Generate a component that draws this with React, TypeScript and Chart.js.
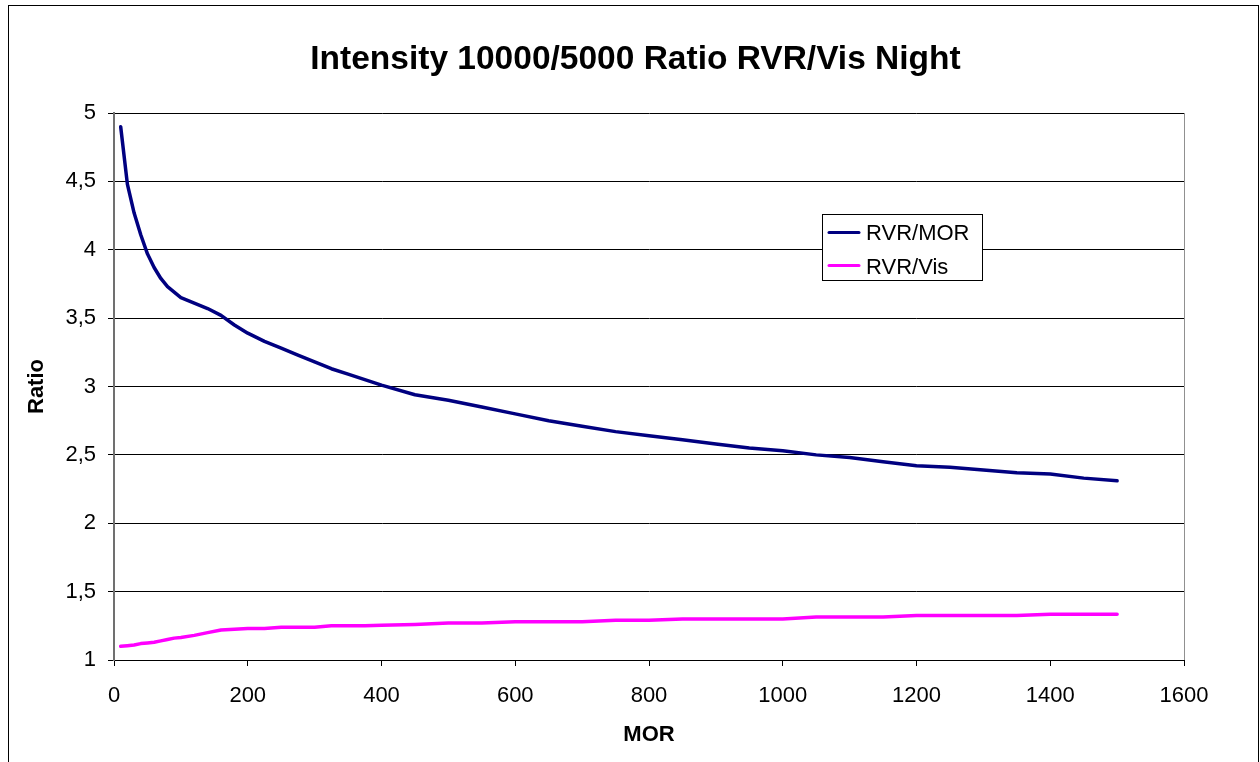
import React, { useEffect, useRef } from "react";
import { Chart, registerables } from "chart.js";

Chart.register(...registerables);

const TITLE = "Intensity 10000/5000 Ratio RVR/Vis Night";
const X_TITLE = "MOR";
const Y_TITLE = "Ratio";
const SERIES_NAMES = ["RVR/MOR", "RVR/Vis"];
const SERIES_COLORS = ["#000080", "#FF00FF"];

const mor = [10, 20, 30, 40, 50, 60, 70, 80, 90, 100, 120, 140, 160, 180, 200, 225, 250, 275, 300, 325, 350, 375, 400, 450, 500, 550, 600, 650, 700, 750, 800, 850, 900, 950, 1000, 1050, 1100, 1150, 1200, 1250, 1300, 1350, 1400, 1450, 1500];

const rvrMor = [4.9, 4.48, 4.27, 4.11, 3.97, 3.87, 3.79, 3.73, 3.69, 3.65, 3.61, 3.57, 3.52, 3.45, 3.39, 3.33, 3.28, 3.23, 3.18, 3.13, 3.09, 3.05, 3.01, 2.94, 2.9, 2.85, 2.8, 2.75, 2.71, 2.67, 2.64, 2.61, 2.58, 2.55, 2.53, 2.5, 2.48, 2.45, 2.42, 2.41, 2.39, 2.37, 2.36, 2.33, 2.31];

const rvrVis = [1.1, 1.105, 1.11, 1.12, 1.125, 1.13, 1.14, 1.15, 1.16, 1.165, 1.18, 1.2, 1.22, 1.225, 1.23, 1.23, 1.24, 1.24, 1.24, 1.25, 1.25, 1.25, 1.255, 1.26, 1.27, 1.27, 1.28, 1.28, 1.28, 1.29, 1.29, 1.3, 1.3, 1.3, 1.3, 1.315, 1.315, 1.315, 1.325, 1.325, 1.325, 1.325, 1.335, 1.335, 1.335];

const FONT = '"Liberation Sans", Arial, sans-serif';

const decor = {
  id: "decor",
  afterDraw(chart: any) {
    const ctx = chart.ctx as CanvasRenderingContext2D;
    const a = chart.chartArea;
    ctx.save();
    ctx.strokeStyle = "#909090";
    ctx.lineWidth = 1;
    ctx.beginPath();
    ctx.moveTo(a.right + 0.5, a.top);
    ctx.lineTo(a.right + 0.5, a.bottom);
    ctx.stroke();
    ctx.strokeStyle = "#000";
    ctx.lineWidth = 1;
    ctx.strokeRect(8.5, 5.5, 1250, 820);
    ctx.fillStyle = "#000";
    ctx.font = `bold 33.5px ${FONT}`;
    ctx.textAlign = "center";
    ctx.textBaseline = "alphabetic";
    ctx.fillText(TITLE, 635.5, 69);
    ctx.fillStyle = "#fff";
    ctx.fillRect(822, 214, 160, 66);
    ctx.strokeStyle = "#000";
    ctx.strokeRect(822.5, 214.5, 160, 66);
    ctx.font = `22px ${FONT}`;
    ctx.textAlign = "left";
    const rows = [
      { y: 232.5, base: 239.5 },
      { y: 265.5, base: 273.5 },
    ];
    chart.data.datasets.forEach((ds: any, i: number) => {
      ctx.strokeStyle = ds.borderColor;
      ctx.lineWidth = 3;
      ctx.lineCap = "round";
      ctx.beginPath();
      ctx.moveTo(829, rows[i].y);
      ctx.lineTo(859, rows[i].y);
      ctx.stroke();
      ctx.fillStyle = "#000";
      ctx.fillText(ds.label, 866, rows[i].base);
    });
    ctx.restore();
  },
};

export default function App() {
  const ref = useRef<HTMLCanvasElement | null>(null);
  useEffect(() => {
    document.body.style.margin = "0";
    const canvas = ref.current!;
    const chart = new Chart(canvas, {
      type: "line",
      data: {
        datasets: [
          {
            label: SERIES_NAMES[0],
            data: mor.map((x, i) => ({ x, y: rvrMor[i] })),
            borderColor: SERIES_COLORS[0],
            backgroundColor: SERIES_COLORS[0],
            borderWidth: 3.5,
            pointRadius: 0,
            tension: 0,
            borderJoinStyle: "round",
            borderCapStyle: "round",
          },
          {
            label: SERIES_NAMES[1],
            data: mor.map((x, i) => ({ x, y: rvrVis[i] })),
            borderColor: SERIES_COLORS[1],
            backgroundColor: SERIES_COLORS[1],
            borderWidth: 3.5,
            pointRadius: 0,
            tension: 0,
            borderJoinStyle: "round",
            borderCapStyle: "round",
          },
        ],
      },
      options: {
        responsive: false,
        animation: false,
        layout: { padding: { top: 113, right: 76, bottom: 0, left: 0 } },
        plugins: {
          legend: { display: false },
          title: { display: false },
          tooltip: { enabled: false },
        },
        scales: {
          x: {
            type: "linear",
            min: 0,
            max: 1600,
            afterFit: (s: any) => {
              s.height = 102;
            },
            ticks: {
              stepSize: 200,
              color: "#000",
              padding: 17,
              font: { family: FONT, size: 22 },
              maxRotation: 0,
              callback: (v: any) => String(v),
            },
            grid: {
              drawOnChartArea: false,
              drawTicks: true,
              tickLength: 6,
              color: "#000",
            },
            border: { display: true, color: "#000", width: 1 },
            title: {
              display: true,
              text: X_TITLE,
              color: "#000",
              font: { family: FONT, size: 22, weight: "bold" },
              padding: { top: 0, bottom: 14 },
            },
          },
          y: {
            type: "linear",
            min: 1,
            max: 5,
            afterFit: (s: any) => {
              s.width = 114;
            },
            ticks: {
              stepSize: 0.5,
              color: "#000",
              padding: 12,
              font: { family: FONT, size: 22 },
              callback: (v: any) => String(v).replace(".", ","),
            },
            grid: {
              color: "#000",
              lineWidth: 1,
              tickLength: 6,
            },
            border: { display: true, color: "#707070", width: 2 },
            title: {
              display: true,
              text: Y_TITLE,
              color: "#000",
              font: { family: FONT, size: 22, weight: "bold" },
              padding: { top: 24, bottom: 0 },
            },
          },
        },
      },
      plugins: [decor],
    });
    return () => chart.destroy();
  }, []);
  return <canvas ref={ref} width={1260} height={762} style={{ display: "block" }} />;
}
